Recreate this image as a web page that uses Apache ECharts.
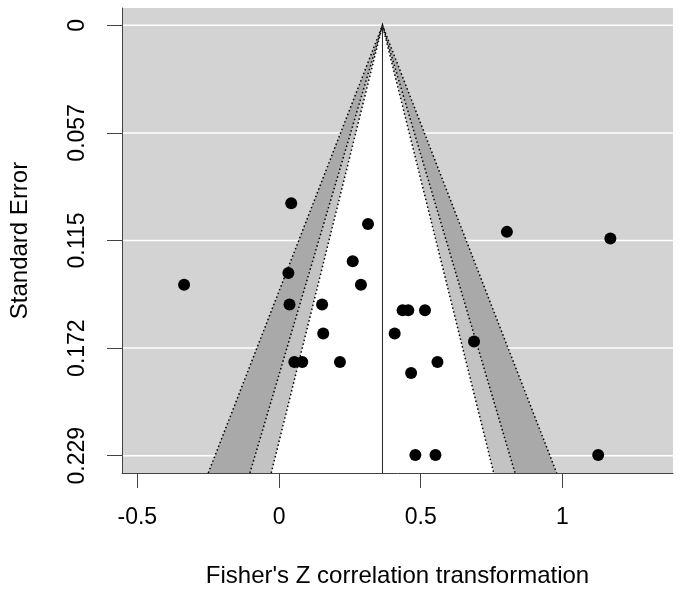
<!DOCTYPE html>
<html>
<head>
<meta charset="utf-8">
<script src="https://cdn.jsdelivr.net/npm/echarts@6/dist/echarts.min.js"></script>
<style>
  html, body { margin: 0; padding: 0; background: #fff; }
  #chart { width: 680px; height: 593px; }
</style>
</head>
<body>
<div id="chart"></div>
<script>
// study effects (Fisher's z) and their standard errors
const fisherZ = [0.043, 0.314, 0.804, 1.169, -0.335, 0.033, 0.260, 0.289, 0.037, 0.152, 0.156, 0.408,
  0.054, 0.082, 0.215, 0.436, 0.456, 0.515, 0.688, 0.559, 0.466, 0.481, 0.552, 1.126]
const stdErr = [0.0949, 0.1059, 0.1101, 0.1136, 0.1383, 0.1320, 0.1258, 0.1383, 0.1488, 0.1488, 0.1643, 0.1643,
  0.1795, 0.1795, 0.1795, 0.1519, 0.1519, 0.1519, 0.1685, 0.1795, 0.1853, 0.2290, 0.2290, 0.2290]

const xTicks = [-0.5, 0, 0.5, 1]
const yTicks = [0, 0.05735, 0.1147, 0.17205, 0.2294]
const yTickLabels = ['0', '0.057', '0.115', '0.172', '0.229']

// pooled estimate and contour levels (99%, 95%, 90%)
const pooled = 0.365
const contourZ = [2.576, 1.96, 1.645]

const xMin = -0.554, xMax = 1.39
const yMin = -0.0092, yMax = 0.2386

const font = 'Liberation Sans, Arial, sans-serif'
const shades = ['#a9a9a9', '#c3c3c3', '#ffffff']

const chart = echarts.init(document.getElementById('chart'))

const gridSeries = yTicks.map(t => ({
  type: 'line',
  z: 1,
  silent: true,
  symbol: 'none',
  data: [[xMin, t], [xMax, t]],
  lineStyle: { color: '#ffffff', width: 1.5 }
}))

chart.setOption({
  animation: false,
  grid: {
    left: 118, right: 7, top: 8, bottom: 117,
    show: true, backgroundColor: '#d3d3d3', borderWidth: 0
  },
  xAxis: {
    type: 'value',
    min: xMin, max: xMax,
    z: 10,
    name: "Fisher's Z correlation transformation",
    nameLocation: 'middle',
    nameGap: 91,
    nameTextStyle: { fontFamily: font, fontSize: 24, color: '#000' },
    axisLine: { onZero: false, lineStyle: { color: '#444', width: 1 } },
    axisTick: { customValues: xTicks, length: 15, lineStyle: { color: '#444' } },
    axisLabel: {
      customValues: xTicks, margin: 33,
      fontFamily: font, fontSize: 23, color: '#000',
      formatter: v => String(v)
    },
    splitLine: { show: false }
  },
  yAxis: {
    type: 'value',
    inverse: true,
    min: yMin, max: yMax,
    z: 10,
    name: 'Standard Error',
    nameLocation: 'middle',
    nameGap: 90,
    nameTextStyle: { fontFamily: font, fontSize: 24, color: '#000' },
    axisLine: { show: true, onZero: false, lineStyle: { color: '#444', width: 1 } },
    axisTick: { show: true, customValues: yTicks, length: 15, lineStyle: { color: '#444' } },
    axisLabel: {
      customValues: yTicks, margin: 33, rotate: 90,
      fontFamily: font, fontSize: 23, color: '#000',
      formatter: v => {
        let best = 0
        yTicks.forEach((t, i) => { if (Math.abs(t - v) < Math.abs(yTicks[best] - v)) best = i })
        return yTickLabels[best]
      }
    },
    splitLine: { show: false }
  },
  series: [
    ...gridSeries,
    {
      type: 'custom',
      z: 2,
      silent: true,
      clip: true,
      data: contourZ.map(z => [z]),
      renderItem(params, api) {
        const z = api.value(0)
        const apex = api.coord([pooled, 0])
        const left = api.coord([pooled - z * yMax, yMax])
        const right = api.coord([pooled + z * yMax, yMax])
        return {
          type: 'group',
          children: [
            { type: 'polygon', z2: 0, shape: { points: [apex, left, right] }, style: { fill: shades[params.dataIndex] } },
            { type: 'polyline', z2: 10, shape: { points: [left, apex, right] },
              style: { stroke: '#000', lineWidth: 1.5, lineDash: [1.5, 2.5], fill: null } }
          ]
        }
      }
    },
    {
      type: 'line',
      z: 3,
      silent: true,
      symbol: 'none',
      data: [[pooled, 0], [pooled, yMax]],
      lineStyle: { color: '#222', width: 1 }
    },
    {
      type: 'scatter',
      z: 4,
      symbol: 'circle',
      symbolSize: 12,
      itemStyle: { color: '#000', opacity: 1 },
      data: fisherZ.map((x, i) => [x, stdErr[i]])
    }
  ]
})
</script>
</body>
</html>
